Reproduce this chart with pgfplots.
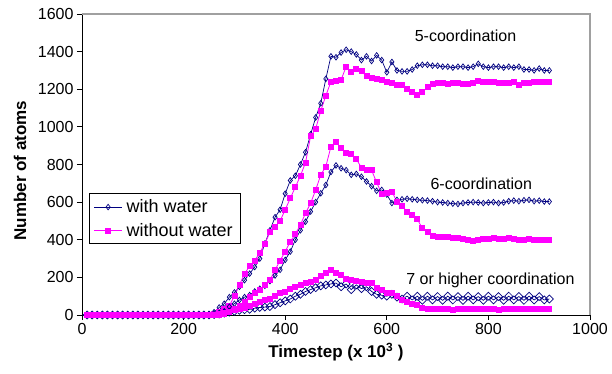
\documentclass[border=0pt]{standalone}
\usepackage{fontspec}
\setmainfont{Liberation Sans}
\usepackage{pgfplots}
\usepackage{pgfplotstable}
\pgfplotsset{compat=1.18}
\definecolor{wblue}{HTML}{000080}
\definecolor{wmag}{HTML}{FF00FF}
\definecolor{frame}{HTML}{A0A0A0}

\pgfplotstableread{
x A B C D E F
10 0 0 0 0 0 0
20 0 0 0 0 0 0
30 0 0 0 0 0 0
40 0 0 0 0 0 0
50 0 0 0 0 0 0
60 0 0 0 0 0 0
70 0 0 0 0 0 0
80 0 0 0 0 0 0
90 0 0 0 0 0 0
100 0 0 0 0 0 0
110 0 0 0 0 0 0
120 0 0 0 0 0 0
130 0 0 0 0 0 0
140 0 0 0 0 0 0
150 0 0 0 0 0 0
160 0 0 0 0 0 0
170 0 0 0 0 0 0
180 0 0 0 0 0 0
190 0 0 0 0 0 0
200 0 0 0 0 0 0
210 0 0 0 0 0 0
220 0 0 0 0 0 0
230 0 0 0 0 0 0
240 0 0 0 0 0 0
250 5 0 0 0 0 0
260 15 5 0 0 2 2
270 40 15 5 0 5 5
280 60 30 20 5 10 10
290 95 50 44 15 15 15
300 120 100 60 30 20 25
310 150 160 80 50 25 35
320 185 220 95 70 28 40
330 220 260 106 95 30 50
340 255 290 125 115 36 60
350 300 330 140 135 40 70
360 380 380 155 160 42 78
370 450 440 180 186 45 85
380 520 470 210 239 55 100
390 560 500 240 290 65 115
400 645 560 293 337 75 125
410 715 620 337 390 85 140
420 740 680 400 430 100 150
430 800 740 450 480 110 160
440 865 810 496 541 125 170
450 960 950 550 594 135 178
460 1050 990 600 665 145 185
470 1125 1085 647 745 155 210
480 1255 1166 691 789 160 225
490 1375 1240 760 895 165 240
500 1370 1245 795 922 170 225
510 1395 1250 780 886 150 215
520 1410 1320 770 860 165 190
530 1400 1290 745 855 135 185
540 1385 1310 750 828 160 180
550 1355 1295 735 784 140 178
560 1375 1270 710 772 150 170
570 1350 1260 685 770 125 170
580 1380 1255 660 705 110 145
590 1355 1250 665 644 105 135
600 1290 1240 640 650 100 120
610 1345 1232 595 656 110 115
620 1300 1225 612 603 95 100
630 1295 1222 615 580 85 80
640 1295 1200 618 550 100 70
650 1305 1185 615 530 80 60
660 1325 1170 612 509 100 55
670 1330 1185 610 461 78 40
680 1330 1210 608 440 100 35
690 1325 1230 605 420 80 33
700 1325 1235 600 413 98 30
710 1320 1235 598 415 78 32
720 1320 1227 595 417 100 30
730 1315 1232 592 412 80 28
740 1320 1232 590 410 98 32
750 1320 1228 595 405 78 30
760 1315 1230 598 400 100 35
770 1320 1235 600 392 80 30
780 1335 1245 598 398 98 32
790 1320 1240 595 405 78 35
800 1315 1238 598 405 100 30
810 1320 1240 600 408 80 32
820 1320 1235 595 405 98 28
830 1315 1235 598 402 78 32
840 1320 1232 605 408 100 30
850 1315 1240 608 405 80 35
860 1320 1225 605 400 98 30
870 1305 1232 610 400 78 32
880 1305 1235 612 405 100 30
890 1300 1240 605 400 80 32
900 1310 1240 608 400 98 30
910 1300 1240 603 400 80 32
920 1300 1238 603 400 85 32
}\data

\begin{document}
\begin{tikzpicture}
\useasboundingbox (-82pt,-59pt) rectangle (530pt,315pt);
\begin{axis}[
  at={(0,0)}, anchor=south west,
  scale only axis, width=508pt, height=301pt,
  xmin=0, xmax=1000, ymin=0, ymax=1600,
  xtick={0,200,...,1000}, ytick={0,200,...,1600},
  axis x line*=bottom, axis y line*=left,
  tick align=outside, major tick length=5pt,
  tick style={black, line width=0.8pt},
  axis line style={black, line width=0.8pt},
  ticklabel style={font=\fontsize{16}{18}\selectfont},
  /pgf/number format/assume math mode=true,
  /pgf/number format/1000 sep={},
  xlabel={\textbf{Timestep (x 10\textsuperscript{3} )}},
  ylabel={\textbf{Number of atoms}},
  label style={font=\fontsize{17}{20}\selectfont},
  xlabel style={at={(axis description cs:0.5,-0.123)}, anchor=center},
  ylabel style={at={(axis description cs:-0.122,0.48)}, anchor=center},
  clip=false,
  legend style={at={(rel axis cs:0.0144,0.404)}, anchor=north west,
    draw=black, line width=0.8pt, font=\fontsize{18}{20}\selectfont,
    inner xsep=4pt, inner ysep=4pt, row sep=5pt,
    nodes={inner xsep=4pt}},
  legend cell align=left,
  legend image code/.code={\draw[#1] (0pt,0pt) -- (28pt,0pt);
    \draw[#1, only marks] plot coordinates {(14pt,0pt)};},
]
\draw[frame, line width=1.2pt] (rel axis cs:0,1) -- (rel axis cs:1,1) -- (rel axis cs:1,0);

\addplot[wblue, line width=0.7pt, mark=diamond, mark size=2.8pt, mark options={fill=white, line width=0.7pt}] table[x=x, y=A] {\data};
\addlegendentry{with water}
\addplot[wmag, line width=0.8pt, mark=square*, mark size=2.5pt, mark options={fill=wmag}] table[x=x, y=B] {\data};
\addlegendentry{without water}

\addplot[wblue, line width=0.7pt, mark=diamond, mark size=2.8pt, mark options={fill=white, line width=0.7pt}, forget plot] table[x=x, y=C] {\data};
\addplot[wblue, line width=0.7pt, mark=square, mark size=2.8pt, mark options={fill=white, rotate=45, line width=0.7pt}, forget plot] table[x=x, y=E] {\data};
\addplot[wmag, line width=0.8pt, mark=square*, mark size=2.5pt, mark options={fill=wmag}, forget plot] table[x=x, y=D] {\data};
\addplot[wmag, line width=0.8pt, mark=square*, mark size=2.5pt, mark options={fill=wmag}, forget plot] table[x=x, y=F] {\data};

\node[font=\fontsize{16}{18}\selectfont] at (axis cs:755,1484) {5-coordination};
\node[font=\fontsize{16}{18}\selectfont] at (axis cs:786,697) {6-coordination};
\node[font=\fontsize{16}{18}\selectfont] at (axis cs:804,186) {7 or higher coordination};
\end{axis}
\end{tikzpicture}
\end{document}
